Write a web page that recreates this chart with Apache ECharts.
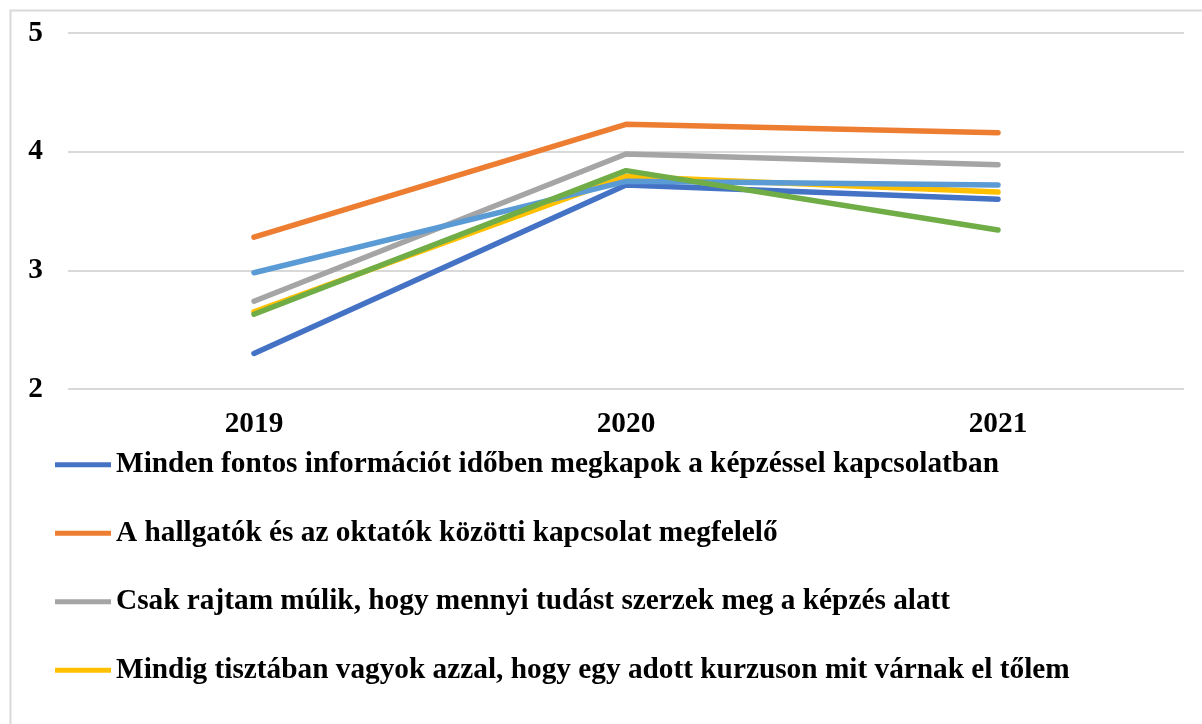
<!DOCTYPE html>
<html>
<head>
<meta charset="utf-8">
<script src="https://cdn.jsdelivr.net/npm/echarts@6/dist/echarts.min.js"></script>
<style>
html,body{margin:0;padding:0;background:#fff;}
#chart{width:1202px;height:724px;}
</style>
</head>
<body>
<div id="chart"></div>
<script>
const categories = ['2019', '2020', '2021'];
const seriesNames = [
  'Minden fontos információt időben megkapok a képzéssel kapcsolatban',
  'A hallgatók és az oktatók közötti kapcsolat megfelelő',
  'Csak rajtam múlik, hogy mennyi tudást szerzek meg a képzés alatt',
  'Mindig tisztában vagyok azzal, hogy egy adott kurzuson mit várnak el tőlem',
  'Sorozat 5',
  'Sorozat 6'
];
const legendNames = seriesNames.slice(0, 4);
const blueValues = [2.30, 3.72, 3.60];
const orangeValues = [3.28, 4.23, 4.16];
const grayValues = [2.74, 3.98, 3.89];
const yellowValues = [2.65, 3.79, 3.66];
const lightBlueValues = [2.98, 3.75, 3.72];
const greenValues = [2.63, 3.84, 3.34];
const colors = ['#4472C4', '#ED7D31', '#A5A5A5', '#FFC000', '#5B9BD5', '#70AD47'];
const allValues = [blueValues, orangeValues, grayValues, yellowValues, lightBlueValues, greenValues];
const yTicks = { min: 2, max: 5, interval: 1 };

const font = 'Liberation Serif';
const fs = 29.3;
const chart = echarts.init(document.getElementById('chart'), null, { renderer: 'canvas' });
chart.setOption({
  animation: false,
  backgroundColor: '#fff',
  color: colors,
  graphic: [{
    type: 'rect',
    shape: { x: 10.5, y: 10.5, width: 1400, height: 1000 },
    style: { fill: 'none', stroke: '#d9d9d9', lineWidth: 2 },
    silent: true,
    z: -1
  }],
  grid: { left: 68, right: 18, top: 33, bottom: 335, containLabel: false },
  legend: {
    type: 'plain',
    data: legendNames,
    orient: 'vertical',
    left: 50,
    top: 445,
    width: 1100,
    height: 600,
    icon: 'rect',
    itemWidth: 56,
    itemHeight: 5,
    itemGap: 39.2,
    textStyle: { fontFamily: font, fontWeight: 'bold', fontSize: fs, color: '#000', lineHeight: fs }
  },
  xAxis: {
    type: 'category',
    data: categories,
    boundaryGap: true,
    axisLine: { show: false },
    axisTick: { show: false },
    axisLabel: { fontFamily: font, fontWeight: 'bold', fontSize: fs, color: '#000', margin: 21 }
  },
  yAxis: {
    type: 'value',
    min: yTicks.min,
    max: yTicks.max,
    interval: yTicks.interval,
    axisLine: { show: false },
    axisTick: { show: false },
    splitLine: { lineStyle: { color: '#d9d9d9', width: 2 } },
    axisLabel: { fontFamily: font, fontWeight: 'bold', fontSize: fs, color: '#000', margin: 25 }
  },
  series: allValues.map((vals, i) => ({
    name: seriesNames[i],
    type: 'line',
    data: vals,
    symbol: 'none',
    lineStyle: { width: 5.5, color: colors[i], cap: 'round', join: 'round' },
    itemStyle: { color: colors[i] }
  }))
});
</script>
</body>
</html>
